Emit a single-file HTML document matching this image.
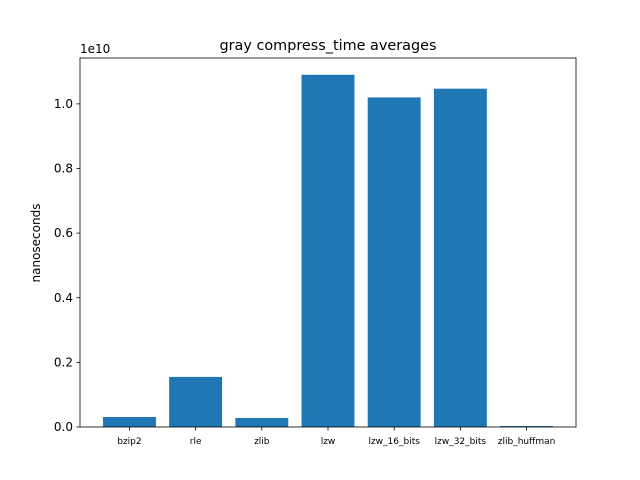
<!DOCTYPE html>
<html><head><meta charset="utf-8"><style>body{margin:0;background:#fff}svg{display:block;font-family:"DejaVu Sans","Liberation Sans",sans-serif}</style></head>
<body>
<svg id="chart" width="640" height="480"></svg>
<script>
const categories=["bzip2","rle","zlib","lzw","lzw_16_bits","lzw_32_bits","zlib_huffman"];
const values=[0.031,0.155,0.028,1.09,1.02,1.047,0.003];
const yTicks=[0,0.2,0.4,0.6,0.8,1.0];
const yTickLabels=["0.0","0.2","0.4","0.6","0.8","1.0"];
const L=80,R=576,T=58,B=427,yMax=1.142,xMin=-0.747,xMax=6.747;
const NS="http://www.w3.org/2000/svg";
const svg=document.getElementById('chart');
function el(t,a,p){const e=document.createElementNS(NS,t);for(const k in a)e.setAttribute(k,a[k]);(p||svg).appendChild(e);return e;}
const x=v=>L+(v-xMin)/(xMax-xMin)*(R-L);
const y=v=>B-v/yMax*(B-T);
categories.forEach((c,i)=>{
 const b=el('rect',{x:x(i-0.4),y:y(values[i]),width:x(i+0.4)-x(i-0.4),height:B-y(values[i]),fill:'#1f77b4'});
 
 
 el('line',{x1:x(i),x2:x(i),y1:B,y2:B+3.5,stroke:'#000','stroke-width':0.8});
 const t=el('text',{x:x(i),y:B+17,'font-size':9,'text-anchor':'middle'});t.textContent=c;
 
 
});
yTicks.forEach((v,i)=>{
 el('line',{x1:L-3.5,x2:L,y1:y(v),y2:y(v),stroke:'#000','stroke-width':0.8});
 const t=el('text',{x:L-7,y:y(v)+4,'font-size':12,'text-anchor':'end'});t.textContent=yTickLabels[i];
 
 
});
const f=el('rect',{x:L,y:T,width:R-L,height:B-T,fill:'none',stroke:'#000','stroke-width':0.8});


let t=el('text',{x:80,y:53,'font-size':12});t.textContent="1e10";


t=el('text',{x:328,y:50,'font-size':14.4,'text-anchor':'middle'});t.textContent="gray compress_time averages";


t=el('text',{x:40,y:243,'font-size':12,'text-anchor':'middle',transform:'rotate(-90 40 243)'});t.textContent="nanoseconds";


</script>
</body></html>
